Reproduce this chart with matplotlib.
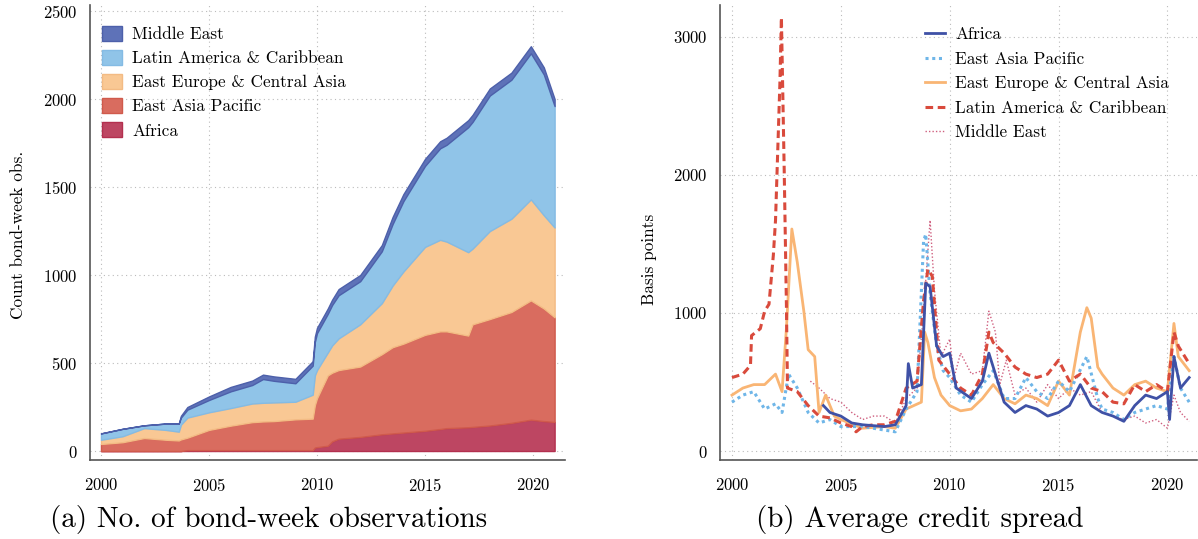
import matplotlib
matplotlib.use("Agg")
import matplotlib.pyplot as plt
from matplotlib.patches import Patch

plt.rcParams['font.family'] = ['cmr10', 'DejaVu Serif']
plt.rcParams['axes.formatter.use_mathtext'] = True
plt.rcParams['mathtext.fontset'] = 'cm'

# ---- panel (a): bond-week observations per region (stacked) ----
obs_years = [2000, 2001, 2002, 2003, 2003.6, 2003.7, 2004, 2005, 2006, 2007,
             2007.5, 2008, 2009, 2009.8, 2009.9, 2010, 2010.5, 2010.7, 2011,
             2012, 2013, 2013.5, 2014, 2015, 2015.7, 2016, 2017, 2017.2, 2018,
             2019, 2019.9, 2020.5, 2021]
obs_africa = [0, 0, 0, 0, 0, 0, 5, 5, 5, 5, 5, 5, 5, 5, 20, 22, 30, 55, 70,
              80, 95, 100, 105, 115, 125, 130, 135, 137, 145, 160, 178, 170, 165]
obs_eap = [40, 50, 74, 64, 60, 66, 71, 115, 139, 159, 163, 165, 175, 179, 240,
           278, 400, 390, 390, 400, 455, 490, 505, 545, 555, 550, 521, 583, 605,
           630, 678, 640, 595]
obs_eeca = [24, 34, 56, 56, 50, 84, 114, 100, 100, 106, 106, 106, 100, 136, 170,
            160, 130, 155, 180, 240, 290, 350, 410, 500, 520, 510, 474, 430, 500,
            530, 574, 530, 510]
obs_latam = [36, 42, 16, 36, 46, 40, 45, 70, 95, 105, 135, 123, 105, 165, 190,
             210, 220, 230, 245, 245, 295, 350, 400, 460, 520, 550, 710, 720, 770,
             790, 830, 800, 690]
obs_me = [0, 0, 0, 0, 0, 10, 15, 20, 25, 25, 25, 25, 25, 25, 30, 30, 30, 30, 35,
          35, 35, 40, 40, 40, 40, 40, 40, 40, 40, 40, 40, 40, 40]

# ---- panel (b): average credit spread, basis points ----
africa_x = [2004.2, 2004.5, 2005, 2005.5, 2006, 2007, 2007.5, 2008, 2008.1, 2008.3,
            2008.7, 2008.9, 2009.1, 2009.4, 2009.7, 2010, 2010.3, 2011, 2011.5,
            2011.8, 2012.1, 2012.5, 2013, 2013.5, 2014, 2014.5, 2015, 2015.5, 2016,
            2016.5, 2017, 2017.5, 2018, 2018.5, 2019, 2019.5, 2020, 2020.1, 2020.3,
            2020.6, 2021]
africa_y = [329, 279, 253, 203, 190, 177, 190, 329, 633, 456, 481, 1215, 1190, 760,
            684, 709, 456, 380, 506, 709, 557, 354, 279, 329, 304, 253, 279, 329,
            481, 329, 279, 253, 215, 329, 405, 380, 430, 228, 684, 456, 532]

eap_x = [2000, 2000.5, 2001, 2001.5, 2002, 2002.3, 2002.6, 2003, 2003.5, 2004,
         2004.5, 2005, 2006, 2007, 2007.5, 2008, 2008.5, 2008.8, 2008.9, 2009.1,
         2009.4, 2009.7, 2010, 2010.5, 2011, 2011.5, 2012, 2012.5, 2013, 2013.5,
         2014, 2014.5, 2015, 2015.5, 2016.3, 2016.8, 2017, 2017.5, 2018, 2018.5,
         2019, 2019.5, 2020, 2020.3, 2020.6, 2021]
eap_y = [354, 405, 430, 304, 342, 279, 557, 456, 279, 203, 228, 177, 177, 152, 139,
         304, 430, 1519, 1570, 1139, 760, 582, 532, 405, 354, 481, 582, 380, 380,
         532, 430, 380, 506, 430, 684, 380, 304, 279, 228, 279, 304, 329, 304, 684,
         456, 354]

eeca_x = [2000, 2000.5, 2001, 2001.5, 2002, 2002.3, 2002.5, 2002.75, 2003, 2003.3,
          2003.5, 2003.8, 2004, 2004.3, 2004.7, 2005, 2006, 2007, 2007.5, 2008,
          2008.7, 2008.85, 2009, 2009.3, 2009.6, 2010, 2010.5, 2011, 2011.5, 2012,
          2012.5, 2013, 2013.5, 2014, 2014.5, 2015, 2015.5, 2016, 2016.3, 2016.5,
          2016.8, 2017, 2017.5, 2018, 2018.5, 2019, 2019.5, 2020, 2020.3, 2020.5,
          2021]
eeca_y = [405, 456, 481, 481, 557, 430, 886, 1608, 1367, 1013, 734, 684, 279, 405,
          253, 228, 165, 177, 165, 304, 354, 861, 785, 532, 405, 329, 291, 304, 380,
          481, 380, 342, 405, 380, 329, 506, 405, 861, 1038, 962, 608, 557, 456,
          405, 481, 506, 456, 430, 924, 684, 582]

latam_x = [2000, 2000.5, 2000.85, 2000.9, 2001.3, 2001.5, 2001.7, 2001.9, 2002,
           2002.2, 2002.27, 2002.4, 2002.5, 2002.55, 2003, 2003.5, 2004, 2004.5,
           2005, 2005.5, 2005.7, 2006, 2006.5, 2007, 2007.5, 2008, 2008.5, 2008.8,
           2009, 2009.2, 2009.5, 2010, 2010.5, 2011, 2011.5, 2011.8, 2012, 2012.5,
           2013, 2013.5, 2014, 2014.5, 2015, 2015.5, 2016, 2016.5, 2017, 2017.5,
           2018, 2018.5, 2019, 2019.5, 2020, 2020.3, 2020.5, 2021]
latam_y = [532, 557, 620, 836, 886, 1013, 1063, 1418, 1671, 2658, 3140, 2025, 1063,
           456, 430, 329, 253, 240, 203, 177, 139, 177, 190, 190, 215, 456, 506,
           1089, 1317, 1266, 658, 557, 456, 405, 557, 861, 785, 709, 608, 557, 532,
           557, 658, 506, 557, 456, 430, 354, 342, 481, 430, 481, 430, 861, 760, 633]

me_x = [2003.6, 2004, 2004.5, 2005, 2005.5, 2006, 2006.5, 2007, 2007.5, 2008,
        2008.5, 2008.8, 2009.1, 2009.3, 2009.6, 2010, 2010.2, 2010.5, 2011, 2011.5,
        2011.8, 2012.1, 2012.3, 2012.6, 2013, 2013.5, 2014, 2014.5, 2015, 2015.5,
        2016, 2016.5, 2017, 2017.5, 2018, 2018.5, 2019, 2019.5, 2020, 2020.3,
        2020.6, 2021]
me_y = [506, 456, 380, 354, 279, 228, 253, 253, 203, 380, 456, 1013, 1671, 1165,
        684, 810, 532, 709, 557, 582, 1013, 861, 481, 658, 405, 456, 354, 481, 380,
        456, 405, 430, 279, 253, 228, 253, 203, 228, 165, 405, 279, 215]

fill_colors = ['#bd4662', '#d96c5f', '#f9c894', '#90c4e8', '#5e72b8']
edge_colors = ['#b3304f', '#d05a4c', '#f3bb84', '#84bbe4', '#4d60aa']
area_labels = ['Africa', 'East Asia Pacific', 'East Europe & Central Asia',
               'Latin America & Caribbean', 'Middle East']

FS = 12.4

fig = plt.figure(figsize=(11.98, 5.39), dpi=100)
ax1 = fig.add_axes([0.0751, 0.1466, 0.3965, 0.844])
ax2 = fig.add_axes([0.601, 0.1466, 0.398, 0.844])


def style_axis(ax):
    for s in ['top', 'right']:
        ax.spines[s].set_visible(False)
    for s in ['left', 'bottom']:
        ax.spines[s].set_color('#555555')
        ax.spines[s].set_linewidth(1.2)
    ax.tick_params(length=0, labelsize=12)
    ax.tick_params(axis='y', pad=9)
    ax.tick_params(axis='x', pad=12)
    ax.grid(True, linestyle=(0, (1, 3)), color='#bbbbbb', linewidth=0.8)
    ax.set_axisbelow(True)
    ax.set_xticks([2000, 2005, 2010, 2015, 2020])


# (a)
polys = ax1.stackplot(obs_years, obs_africa, obs_eap, obs_eeca, obs_latam, obs_me,
                      colors=fill_colors, labels=area_labels, zorder=2)
for p, ec in zip(polys, edge_colors):
    p.set_edgecolor(ec)
    p.set_linewidth(1.0)
style_axis(ax1)
ax1.set_xlim(1999.49, 2021.48)
ax1.set_ylim(-51, 2534)
ax1.set_yticks([0, 500, 1000, 1500, 2000, 2500])
ax1.set_ylabel('Count bond-week obs.', fontsize=FS)
ax1.yaxis.set_label_coords(-0.135, 0.495)
handles = [Patch(facecolor=f, edgecolor=e, linewidth=1.0)
           for f, e in zip(fill_colors, edge_colors)][::-1]
ax1.legend(handles, area_labels[::-1], loc='upper left', bbox_to_anchor=(0.0, 0.981),
           frameon=False, fontsize=FS, handlelength=1.15, handleheight=0.95,
           labelspacing=0.45, handletextpad=0.6, borderaxespad=0.3)

# (b)
ax2.plot(africa_x, africa_y, color='#3f51a6', lw=2.0, label='Africa', zorder=5)
ax2.plot(eap_x, eap_y, color='#6fb6e8', lw=2.2, linestyle=(0, (1, 1.2)),
         label='East Asia Pacific', zorder=3)
ax2.plot(eeca_x, eeca_y, color='#f9b574', lw=2.0, label='East Europe & Central Asia',
         zorder=2)
ax2.plot(latam_x, latam_y, color='#d94a3c', lw=2.2, linestyle=(0, (2.5, 1.5)),
         label='Latin America & Caribbean', zorder=4)
ax2.plot(me_x, me_y, color='#cf5f7f', lw=1.0, linestyle=(0, (1, 1.5)),
         label='Middle East', zorder=1)
style_axis(ax2)
ax2.set_xlim(1999.45, 2021.35)
ax2.set_ylim(-65, 3230)
ax2.set_yticks([0, 1000, 2000, 3000])
ax2.set_ylabel('Basis points', fontsize=FS)
ax2.yaxis.set_label_coords(-0.132, 0.44)
ax2.legend(loc='upper left', bbox_to_anchor=(0.405, 0.978), frameon=False, fontsize=FS,
           handlelength=1.16, labelspacing=0.53, handletextpad=0.58, borderaxespad=0.3)

fig.text(0.224, 0.037, '(a) No. of bond-week observations', ha='center', va='center',
         fontsize=21)
fig.text(0.768, 0.037, '(b) Average credit spread', ha='center', va='center',
         fontsize=21)

fig.savefig('out.png', dpi=100)
